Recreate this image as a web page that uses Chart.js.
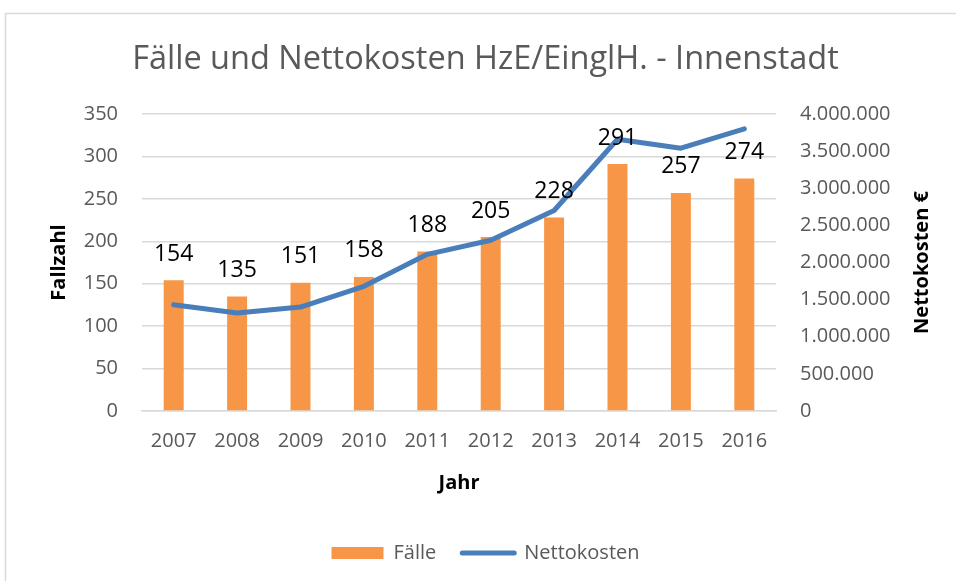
<!DOCTYPE html>
<html>
<head>
<meta charset="utf-8">
<script src="https://cdn.jsdelivr.net/npm/chart.js@4/dist/chart.umd.min.js"></script>
<style>
  html, body { margin: 0; padding: 0; background: #ffffff; }
  #wrap { position: relative; width: 956px; height: 581px; }
</style>
</head>
<body>
<div id="wrap"><canvas id="c" width="956" height="581"></canvas></div>
<script>
const years = ['2007', '2008', '2009', '2010', '2011', '2012', '2013', '2014', '2015', '2016'];
const faelle = [154, 135, 151, 158, 188, 205, 228, 291, 257, 274];
const nettokosten = [1430000, 1320000, 1400000, 1680000, 2110000, 2300000, 2700000, 3660000, 3540000, 3800000];

const titleText = 'Fälle und Nettokosten HzE/EinglH. - Innenstadt';
const leftTitle = 'Fallzahl';
const rightTitle = 'Nettokosten €';
const xTitle = 'Jahr';

const FONT = "'Open Sans', 'DejaVu Sans', sans-serif";
const GREY = '#595959';

function deFormat(v) {
  return String(Math.round(v)).replace(/\B(?=(\d{3})+(?!\d))/g, '.');
}

const frame = {
  id: 'frame',
  beforeDraw(chart) {
    const ctx = chart.ctx;
    ctx.save();
    ctx.fillStyle = '#ffffff';
    ctx.fillRect(0, 0, chart.width, chart.height);
    ctx.strokeStyle = '#d9d9d9';
    ctx.lineWidth = 1.5;
    ctx.strokeRect(5.5, 13.5, 960, 580);
    ctx.restore();
  }
};

const barLabels = {
  id: 'barLabels',
  afterDatasetsDraw(chart) {
    const ctx = chart.ctx;
    const meta = chart.getDatasetMeta(1);
    ctx.save();
    ctx.font = '23px ' + FONT;
    ctx.fillStyle = '#000000';
    ctx.textAlign = 'center';
    ctx.textBaseline = 'middle';
    meta.data.forEach((el, i) => {
      ctx.fillText(String(faelle[i]), el.x, el.y - 26);
    });
    ctx.restore();
  }
};

const rightTitlePlugin = {
  id: 'rightTitle',
  afterDraw(chart) {
    const ctx = chart.ctx;
    const a = chart.chartArea;
    ctx.save();
    ctx.translate(922, (a.top + a.bottom) / 2);
    ctx.rotate(-Math.PI / 2);
    ctx.font = 'bold 20px ' + FONT;
    ctx.fillStyle = '#000000';
    ctx.textAlign = 'center';
    ctx.textBaseline = 'middle';
    ctx.fillText(rightTitle, 0, 0);
    ctx.restore();
  }
};

new Chart(document.getElementById('c'), {
  data: {
    labels: years,
    datasets: [
      {
        type: 'line',
        label: 'Nettokosten',
        data: nettokosten,
        yAxisID: 'y1',
        borderColor: '#4a7ebb',
        backgroundColor: '#4a7ebb',
        borderWidth: 5,
        pointRadius: 0,
        tension: 0,
        borderCapStyle: 'round',
        borderJoinStyle: 'round',
        order: 1
      },
      {
        type: 'bar',
        label: 'Fälle',
        data: faelle,
        yAxisID: 'y',
        backgroundColor: '#f79646',
        borderWidth: 0,
        categoryPercentage: 1,
        barPercentage: 0.315,
        order: 2
      }
    ]
  },
  options: {
    responsive: false,
    animation: false,
    devicePixelRatio: 1,
    layout: { padding: { top: 20, left: 35, right: 20, bottom: 8 } },
    plugins: {
      title: {
        display: true,
        text: titleText,
        color: GREY,
        font: { family: FONT, size: 32.5, weight: 'normal' },
        padding: { top: 20, bottom: 35 }
      },
      legend: {
        position: 'bottom',
        reverse: true,
        labels: {
          color: GREY,
          font: { family: FONT, size: 20 },
          usePointStyle: true,
          pointStyleWidth: 52,
          boxHeight: 12,
          padding: 26,
          generateLabels(chart) {
            return [
              { text: 'Nettokosten', fillStyle: '#4a7ebb', strokeStyle: '#4a7ebb', lineWidth: 5, lineCap: 'round', pointStyle: 'line', datasetIndex: 0, fontColor: GREY },
              { text: 'Fälle', fillStyle: '#f79646', strokeStyle: '#f79646', lineWidth: 0, pointStyle: 'rect', datasetIndex: 1, fontColor: GREY }
            ];
          }
        }
      },
      tooltip: { enabled: false }
    },
    scales: {
      x: {
        grid: { display: false, drawTicks: false },
        border: { display: true, color: '#d9d9d9', width: 1.5 },
        ticks: { color: GREY, font: { family: FONT, size: 20 }, padding: 18, maxRotation: 0 },
        title: {
          display: true,
          text: xTitle,
          color: '#000000',
          font: { family: FONT, size: 20, weight: 'bold' },
          padding: { top: 0, bottom: 22 }
        }
      },
      y: {
        position: 'left',
        min: 0,
        max: 350,
        ticks: { stepSize: 50, color: GREY, font: { family: FONT, size: 20 }, padding: 24 },
        grid: { color: '#d9d9d9', lineWidth: 1.5, drawTicks: false },
        border: { display: false },
        title: {
          display: true,
          text: leftTitle,
          color: '#000000',
          font: { family: FONT, size: 20, weight: 'bold' },
          padding: { top: 12, bottom: 0 }
        },
        afterFit(scale) { scale.width = 107; }
      },
      y1: {
        position: 'right',
        min: 0,
        max: 4000000,
        ticks: {
          stepSize: 500000,
          color: GREY,
          font: { family: FONT, size: 20 },
          padding: 24,
          callback: (v) => deFormat(v)
        },
        grid: { display: false, drawTicks: false },
        border: { display: false },
        afterFit(scale) { scale.width = 160; }
      }
    }
  },
  plugins: [frame, barLabels, rightTitlePlugin]
});
</script>
</body>
</html>
